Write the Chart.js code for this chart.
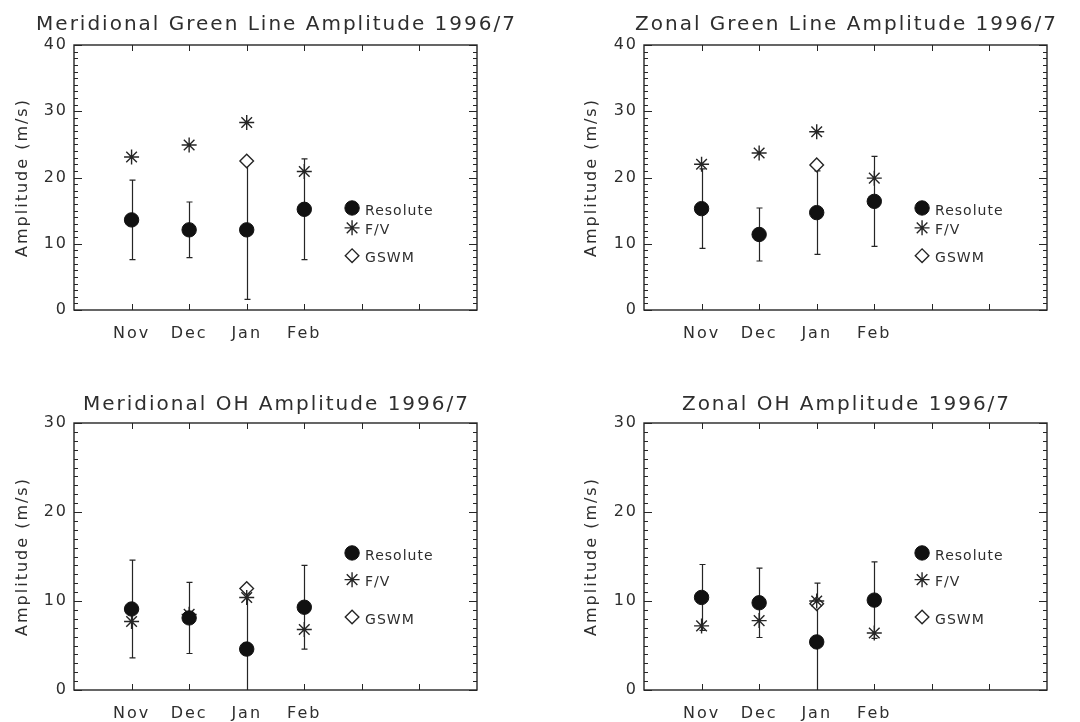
<!DOCTYPE html>
<html>
<head>
<meta charset="utf-8">
<script src="https://cdn.jsdelivr.net/npm/chart.js@4/dist/chart.umd.min.js"></script>
<style>
  html, body { margin: 0; padding: 0; background: #fff; }
  body { width: 1080px; height: 722px; position: relative; overflow: hidden; }
  canvas { position: absolute; }
</style>
</head>
<body>
<canvas id="mg" width="540" height="361" style="left:0;top:0"></canvas>
<canvas id="zg" width="540" height="361" style="left:540px;top:0"></canvas>
<canvas id="mo" width="540" height="361" style="left:0;top:361px"></canvas>
<canvas id="zo" width="540" height="361" style="left:540px;top:361px"></canvas>
<script>
// ---- data (m/s), one value per month ----
const months = ["Nov", "Dec", "Jan", "Feb"];

// Meridional green line
const mgResolute = [13.6, 12.1, 12.1, 15.2];
const mgResErr   = [6.0, 4.2, 10.5, 7.6];
const mgFV       = [23.1, 24.9, 28.3, 20.9];
const mgGSWM     = [null, null, 22.5, null];

// Zonal green line
const zgResolute = [15.3, 11.4, 14.7, 16.4];
const zgResErr   = [6.0, 4.0, 6.3, 6.8];
const zgFV       = [22.0, 23.7, 26.9, 19.9];
const zgGSWM     = [null, null, 21.9, null];

// Meridional OH
const moResolute = [9.1, 8.1, 4.6, 9.3];
const moResErr   = [5.5, 4.0, 6.2, 4.7];
const moFV       = [7.7, 8.5, 10.4, 6.8];
const moGSWM     = [null, null, 11.4, null];

// Zonal OH
const zoResolute = [10.4, 9.8, 5.4, 10.1];
const zoResErr   = [3.7, 3.9, 6.6, 4.3];
const zoFV       = [7.2, 7.8, 10.0, 6.4];
const zoGSWM     = [null, null, 9.7, null];

const FONT = "'DejaVu Sans', sans-serif";
const INK = "#252525";
const TXT = "#2e2e2e";

// month index -> x position 1..n
const toXY = (vals) => vals.map((v, i) => ({ x: i + 1, y: v }));

// wide letter spacing like the original plot font
const spacing = {
  id: "spacing",
  beforeLayout(chart) { chart.ctx.letterSpacing = "2px"; },
  beforeDraw(chart) { chart.ctx.letterSpacing = "2px"; }
};

// panel title, centred over the plot box (not squeezed to its width)
const heading = {
  id: "heading",
  afterDraw(chart, args, opts) {
    const { ctx, chartArea: a } = chart;
    ctx.save();
    ctx.letterSpacing = "2px";
    ctx.font = "20px " + FONT;
    ctx.fillStyle = TXT;
    ctx.textAlign = "center";
    ctx.textBaseline = "middle";
    ctx.fillText(opts.text, (a.left + a.right) / 2 + 1, opts.y);
    ctx.restore();
  }
};

// error bars of the Resolute series
const errorBars = {
  id: "errorBars",
  beforeDatasetsDraw(chart) {
    const { ctx, chartArea: a, scales: { x, y } } = chart;
    const ds = chart.data.datasets[0];
    ctx.save();
    ctx.beginPath();
    ctx.rect(a.left, a.top, a.right - a.left, a.bottom - a.top);
    ctx.clip();
    ctx.strokeStyle = INK;
    ctx.lineWidth = 1.2;
    ctx.beginPath();
    ds.data.forEach((p, i) => {
      const e = ds.errors[i];
      const px = Math.round(x.getPixelForValue(p.x)) + 0.5;
      const hi = y.getPixelForValue(p.y + e);
      const lo = y.getPixelForValue(p.y - e);
      ctx.moveTo(px, hi); ctx.lineTo(px, lo);
      ctx.moveTo(px - 3, hi); ctx.lineTo(px + 3, hi);
      ctx.moveTo(px - 3, lo); ctx.lineTo(px + 3, lo);
    });
    ctx.stroke();
    ctx.restore();
  }
};

// box with inward ticks on all four sides
const frame = {
  id: "frame",
  afterDatasetsDraw(chart) {
    const { ctx, chartArea: a, scales: { x, y } } = chart;
    ctx.save();
    ctx.strokeStyle = INK;
    ctx.lineWidth = 1.4;
    ctx.strokeRect(a.left, a.top, a.right - a.left, a.bottom - a.top);
    ctx.lineWidth = 1;
    ctx.beginPath();
    for (let v = y.min; v <= y.max; v++) {
      const py = Math.round(y.getPixelForValue(v)) + 0.5;
      const len = v % 10 === 0 ? 8 : 4;
      ctx.moveTo(a.left, py); ctx.lineTo(a.left + len, py);
      ctx.moveTo(a.right, py); ctx.lineTo(a.right - len, py);
    }
    for (let v = x.min + 1; v < x.max; v++) {
      const px = Math.round(x.getPixelForValue(v)) + 0.5;
      ctx.moveTo(px, a.bottom); ctx.lineTo(px, a.bottom - 6);
      ctx.moveTo(px, a.top); ctx.lineTo(px, a.top + 6);
    }
    ctx.stroke();
    ctx.restore();
  }
};

// key drawn inside the plot, in data units
const sideKey = {
  id: "sideKey",
  afterDatasetsDraw(chart, args, opts) {
    const { ctx, scales: { x, y } } = chart;
    ctx.save();
    ctx.letterSpacing = "1px";
    ctx.font = "14px " + FONT;
    ctx.textAlign = "left";
    ctx.textBaseline = "middle";
    chart.data.datasets.forEach((ds, i) => {
      const px = x.getPixelForValue(opts.x);
      const py = y.getPixelForValue(opts.rows[i]);
      ctx.fillStyle = ds.backgroundColor;
      ctx.strokeStyle = ds.borderColor;
      ctx.lineWidth = ds.borderWidth;
      Chart.helpers.drawPoint(ctx, {
        pointStyle: ds.pointStyle, radius: ds.pointRadius, rotation: 0, borderWidth: ds.borderWidth
      }, px, py);
      ctx.fillStyle = TXT;
      ctx.fillText(ds.label, px + 13, py + 3);
    });
    ctx.restore();
  }
};

function makePanel(id, title, yMax, res, err, fv, gswm, lay) {
  return new Chart(document.getElementById(id), {
    type: "scatter",
    data: {
      datasets: [
        { label: "Resolute", data: toXY(res), errors: err, pointStyle: "circle", pointRadius: 7.2,
          backgroundColor: "#111", borderColor: "#111", borderWidth: 1 },
        { label: "F/V", data: toXY(fv), pointStyle: "star", pointRadius: 7.5,
          backgroundColor: "#fff", borderColor: INK, borderWidth: 1.4 },
        { label: "GSWM", data: toXY(gswm), pointStyle: "rectRot", pointRadius: 6.8,
          backgroundColor: "#fff", borderColor: INK, borderWidth: 1.4 }
      ]
    },
    options: {
      responsive: false,
      animation: false,
      layout: { padding: { left: 0, top: lay.top, bottom: 0, right: lay.right } },
      plugins: {
        legend: { display: false },
        tooltip: { enabled: false },
        title: { display: false },
        heading: { text: title, y: lay.titleY },
        sideKey: { x: 4.83, rows: [15.4, 12.4, 8.2] }
      },
      scales: {
        x: {
          type: "linear", min: 0, max: months.length + 3,
          grid: { display: false, drawTicks: false },
          border: { display: false },
          afterFit: (s) => { s.height = lay.xh; },
          ticks: {
            stepSize: 1, autoSkip: false, maxRotation: 0, padding: 14, color: TXT,
            font: { family: FONT, size: 16 },
            callback: (v) => months[v - 1] || ""
          }
        },
        y: {
          min: 0, max: yMax,
          grid: { display: false, drawTicks: false },
          border: { display: false },
          afterFit: (s) => { s.width = lay.yw; },
          ticks: { stepSize: 10, padding: 6, color: TXT, font: { family: FONT, size: 16 } },
          title: {
            display: true, text: "Amplitude (m/s)", color: TXT,
            font: { family: FONT, size: 16 },
            padding: { top: lay.yTitle, bottom: 0 }
          }
        }
      }
    },
    plugins: [spacing, heading, errorBars, frame, sideKey]
  });
}

const topLeft  = { yw: 74,  right: 63, xh: 51, top: 45, titleY: 25, yTitle: 13 };
const topRight = { yw: 104, right: 33, xh: 51, top: 45, titleY: 25, yTitle: 42 };
const botLeft  = { yw: 74,  right: 63, xh: 32, top: 62, titleY: 44, yTitle: 13 };
const botRight = { yw: 104, right: 33, xh: 32, top: 62, titleY: 44, yTitle: 42 };

makePanel("mg", "Meridional Green Line Amplitude 1996/7", 40, mgResolute, mgResErr, mgFV, mgGSWM, topLeft);
makePanel("zg", "Zonal Green Line Amplitude 1996/7", 40, zgResolute, zgResErr, zgFV, zgGSWM, topRight);
makePanel("mo", "Meridional OH Amplitude 1996/7", 30, moResolute, moResErr, moFV, moGSWM, botLeft);
makePanel("zo", "Zonal OH Amplitude 1996/7", 30, zoResolute, zoResErr, zoFV, zoGSWM, botRight);
</script>
</body>
</html>
